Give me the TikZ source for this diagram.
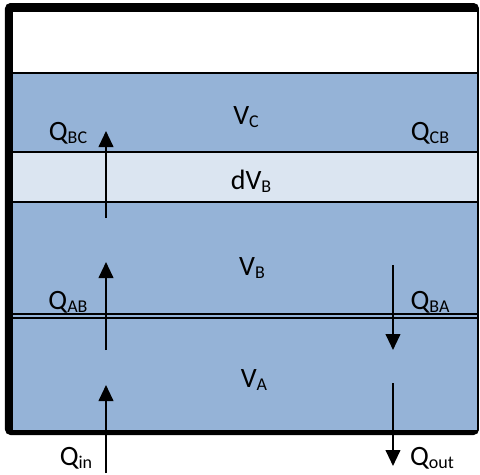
\documentclass[tikz,border=0pt]{standalone}
\usepackage{fontspec}
\setmainfont{Carlito}
\usepackage{xcolor}
\definecolor{bandBlue}  {HTML}{95B3D7}
\definecolor{bandLight} {HTML}{DBE5F1}
\usetikzlibrary{arrows.meta}
\newcommand{\qlab}[2]{#1\raisebox{-2.5pt}{\fontsize{13.5}{13.5}\selectfont #2}}

\begin{document}
\begin{tikzpicture}[x=0.75pt, y=-0.75pt,
    every node/.style={font=\fontsize{21}{21}\selectfont, inner sep=0pt},
    sep/.style={line width=1.5pt},
    arr/.style={-{Triangle[width=11pt, length=12pt]}, line width=1.5pt}
]
\useasboundingbox (0,0) rectangle (480,475);
% Tank frame
\fill[black, rounded corners=4pt] (5,3) rectangle (479,435);
\fill[white] (13,12) rectangle (477,430);
% Layers
\foreach \ya/\yb/\c in {73/151/bandBlue, 151/202/bandLight, 202/316/bandBlue, 316/430/bandBlue} {
    \fill[\c] (13,\ya) rectangle (477,\yb);
}
% Separating lines
\foreach \y in {73, 151.5, 202, 314, 318} {
    \draw[sep] (13,\y) -- (477,\y);
}
% Volumes
\node (vc)  at (246,117) {\qlab{V}{C}};
\node (dvb) at (251,181) {\qlab{dV}{B}};
\node (vb)  at (252,268) {\qlab{V}{B}};
\node (va)  at (254,380) {\qlab{V}{A}};
% Flow labels
\node (qbc)  at (68,133)  {\qlab{Q}{BC}};
\node (qcb)  at (430,133) {\qlab{Q}{CB}};
\node (qab)  at (68,302)  {\qlab{Q}{AB}};
\node (qba)  at (430,302) {\qlab{Q}{BA}};
\node (qin)  at (76,458)  {\qlab{Q}{in}};
\node (qout) at (432,458) {\qlab{Q}{out}};
% Flow arrows
\foreach \nm/\x/\ya/\yb in {bc/106/218/131, ab/106/350/262, in/106/473/385,
                            ba/393/265/350, out/393/383/466} {
    \coordinate (\nm0) at (\x,\ya);
    \coordinate (\nm1) at (\x,\yb);
}
\foreach \nm in {bc, ab, in, ba, out} {
    \draw[arr] (\nm0) -- (\nm1);
}
\end{tikzpicture}
\end{document}
